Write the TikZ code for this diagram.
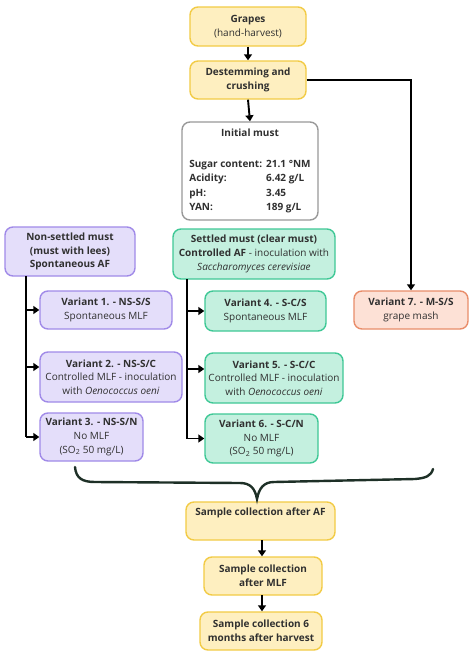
\documentclass[tikz,border=0pt]{standalone}
\usepackage{fontspec}
\setmainfont{Open Sans}
\usetikzlibrary{arrows.meta}
\definecolor{yfill}{HTML}{FEEFC0}
\definecolor{ydraw}{HTML}{F2CB45}
\definecolor{pfill}{HTML}{E4DEFA}
\definecolor{pdraw}{HTML}{A08AE8}
\definecolor{gfill}{HTML}{C4F0DF}
\definecolor{gdraw}{HTML}{3FC896}
\definecolor{rfill}{HTML}{FDE1D6}
\definecolor{rdraw}{HTML}{E98D6A}
\definecolor{txt}{HTML}{303030}
\definecolor{brace}{HTML}{1E3027}
\tikzset{
  boxbase/.style={rounded corners=8pt, line width=1.4pt, align=center, inner sep=1pt,
    font=\fontsize{10}{13.7}\selectfont, text=txt},
  ybox/.style={boxbase, fill=yfill, draw=ydraw},
  pbox/.style={boxbase, fill=pfill, draw=pdraw},
  gbox/.style={boxbase, fill=gfill, draw=gdraw},
  rbox/.style={boxbase, fill=rfill, draw=rdraw},
  wbox/.style={boxbase, fill=white, draw=gray!80},
  arr/.style={line width=1.9pt, black, -{Triangle[length=6pt,width=8pt]}},
  bus/.style={line width=1.9pt, black},
  sz/.style 2 args={minimum width=#1pt, minimum height=#2pt},
}
\begin{document}
\begin{tikzpicture}[x=1pt,y=-1pt]
\useasboundingbox[fill=white] (0,0) rectangle (474,657);

\node[ybox, sz={116}{39}] (grapes) at (248,26.5) {\textbf{Grapes}\\(hand-harvest)};
\node[ybox, sz={116}{38}] (destem) at (248,80) {\textbf{Destemming and}\\\textbf{crushing}};
\node[wbox, sz={136}{98}] (init) at (250,171) {\bfseries\begin{tabular}{@{}l@{\hspace{4pt}}l@{}}
\multicolumn{2}{c}{Initial must}\\[17pt]
Sugar content: & 21.1 °NM\\[0.8pt]
Acidity: & 6.42 g/L\\[0.8pt]
pH: & 3.45\\[0.8pt]
YAN: & 189 g/L
\end{tabular}};

\node[pbox, sz={130}{49}] (ns) at (70,251.5) {\textbf{Non-settled must}\\\textbf{(must with lees)}\\\textbf{Spontaneous AF}};
\node[pbox, sz={132}{38}] (v1) at (106,310) {\textbf{Variant 1. - NS-S/S}\\Spontaneous MLF};
\node[pbox, sz={142}{50}] (v2) at (111,377) {\textbf{Variant 2. - NS-S/C}\\Controlled MLF - inoculation\\with \textit{Oenococcus oeni}};
\node[pbox, sz={103}{48}] (v3) at (91.5,437) {\textbf{Variant 3. - NS-S/N}\\No MLF\\(SO\textsubscript{2} 50 mg/L)};

\node[gbox, sz={162}{50}] (s) at (254,254) {\textbf{Settled must (clear must)}\\\textbf{Controlled AF} - inoculation with\\\textit{Saccharomyces cerevisiae}};
\node[gbox, sz={121}{40}] (v4) at (265.5,311) {\textbf{Variant 4. - S-C/S}\\Spontaneous MLF};
\node[gbox, sz={138}{50}] (v5) at (274,378) {\textbf{Variant 5. - S-C/C}\\Controlled MLF - inoculation\\with \textit{Oenococcus oeni}};
\node[gbox, sz={113}{49}] (v6) at (261.5,438.5) {\textbf{Variant 6. - S-C/N}\\No MLF\\(SO\textsubscript{2} 50 mg/L)};

\node[rbox, sz={114}{38}] (v7) at (411,310) {\textbf{Variant 7. - M-S/S}\\grape mash};

\node[ybox, sz={149}{38}] (saf) at (260.5,521) {\textbf{Sample collection after AF}\\\strut};
\node[ybox, sz={118}{38}] (smlf) at (263,576) {\textbf{Sample collection}\\\textbf{after MLF}};
\node[ybox, sz={122}{38}] (s6) at (261,631) {\textbf{Sample collection 6}\\\textbf{months after harvest}};

% main chain
\draw[arr] (grapes.south) -- (destem.north);
\draw[arr] (destem.south) -- (init.north);
\draw[arr] (destem.east) -| (v7.north);

% left bus
\coordinate (lt) at (26,276);
\coordinate (l1) at (26,310);
\coordinate (l2) at (26,367);
\coordinate (lb) at (26,437);
\draw[bus] (lt) -- (lb);
\draw[arr] (l1) -- (v1.west);
\draw[arr] (l2) -- (l2 -| v2.west);
\draw[arr] (lb) -- (v3.west);

% right bus
\coordinate (rt) at (187,279);
\coordinate (r1) at (187,311);
\coordinate (r2) at (187,369);
\coordinate (rb) at (187,438.5);
\draw[bus] (rt) -- (rb);
\draw[arr] (r1) -- (v4.west);
\draw[arr] (r2) -- (r2 -| v5.west);
\draw[arr] (rb) -- (v6.west);

% brace
\coordinate (bl) at (75,467);
\coordinate (bt) at (257,499);
\coordinate (br) at (433,469);
\draw[brace, line width=2.4pt, line cap=round]
  (bl) .. controls (76,478) and (82,482) .. (95,482)
  -- (240,483) .. controls (250,483) and (255,488) .. (bt)
  .. controls (259,488) and (264,482) .. (274,482)
  -- (415,479) .. controls (426,478) and (431,476) .. (br);

\coordinate (a1) at (262,540);
\coordinate (a2) at (262,595);
\draw[arr] (a1) -- (a1 |- smlf.north);
\draw[arr] (a2) -- (a2 |- s6.north);
\end{tikzpicture}
\end{document}
